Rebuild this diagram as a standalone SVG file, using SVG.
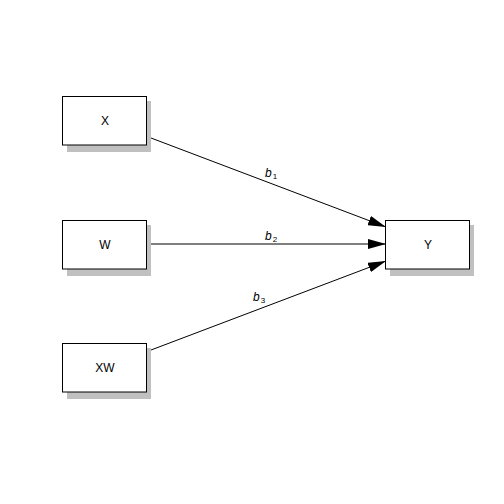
<svg xmlns="http://www.w3.org/2000/svg" width="504" height="504" viewBox="0 0 504 504">
<style>
.shadow{fill:#c0c0c0;stroke:none}
.box{fill:#fff;stroke:#000;stroke-width:1}
.lbl{font-family:"Liberation Sans",Arial,sans-serif;font-size:12px;fill:#000;text-anchor:middle}
.edge{stroke:#000;stroke-width:1;fill:none}
.coef{font-family:"Liberation Sans",Arial,sans-serif;font-size:12px;font-style:italic;fill:#000}
.sub{font-size:8px;font-style:normal}
</style>
<defs>
<marker id="arr" markerWidth="18" markerHeight="10" refX="18" refY="5" orient="auto" markerUnits="userSpaceOnUse">
<path d="M0,0 L18,5 L0,10 Z" fill="#000"/>
</marker>
</defs>
<rect width="504" height="504" fill="#fff"/>
<g id="connectors">
<line class="edge" x1="151" y1="138" x2="386" y2="227" marker-end="url(#arr)"/>
<line class="edge" x1="151" y1="244" x2="386" y2="244" marker-end="url(#arr)"/>
<line class="edge" x1="151" y1="350" x2="386" y2="261" marker-end="url(#arr)"/>
<text class="coef" x="265" y="177">b<tspan class="sub" dx="1" dy="2">1</tspan></text>
<text class="coef" x="265" y="240">b<tspan class="sub" dx="1" dy="2">2</tspan></text>
<text class="coef" x="253" y="301">b<tspan class="sub" dx="1" dy="2">3</tspan></text>
</g>
<g id="node-X">
<rect class="shadow" x="67" y="101" width="84" height="51"/>
<rect class="box" x="62.5" y="96.5" width="84" height="48.5"/>
<text class="lbl" x="105" y="125">X</text>
</g>
<g id="node-W">
<rect class="shadow" x="67" y="225" width="84" height="51"/>
<rect class="box" x="62.5" y="220.5" width="84" height="48.5"/>
<text class="lbl" x="105" y="249">W</text>
</g>
<g id="node-XW">
<rect class="shadow" x="67" y="348" width="84" height="51"/>
<rect class="box" x="62.5" y="343.5" width="84" height="48.5"/>
<text class="lbl" x="105" y="372">XW</text>
</g>
<g id="node-Y">
<rect class="shadow" x="390" y="225" width="84" height="51"/>
<rect class="box" x="385.5" y="220.5" width="84" height="48.5"/>
<text class="lbl" x="428" y="249">Y</text>
</g>
</svg>
